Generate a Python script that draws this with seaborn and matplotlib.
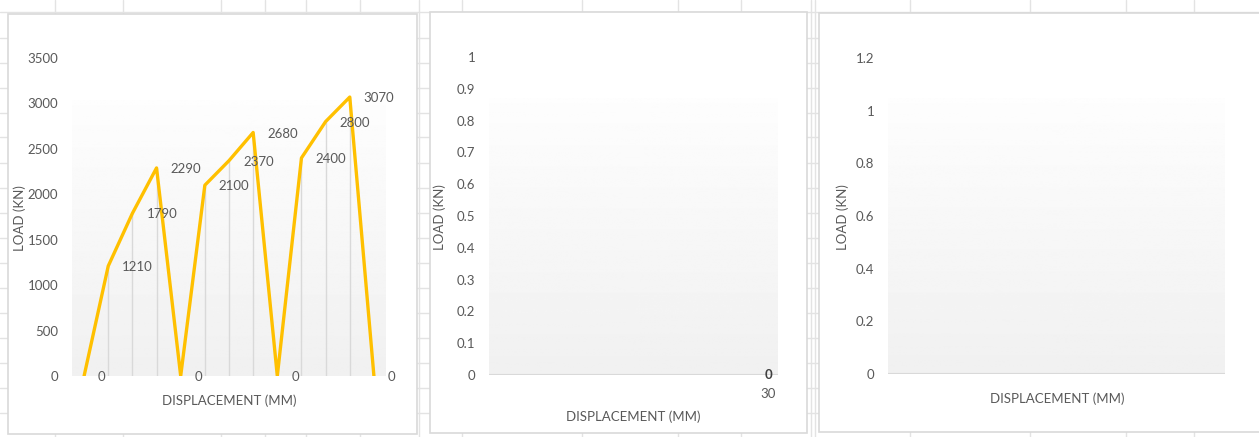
import numpy as np
import matplotlib
matplotlib.use("Agg")
import matplotlib.pyplot as plt
from matplotlib.patches import Rectangle
import seaborn as sns
import pandas as pd

# ---- data -------------------------------------------------------------
load_a = [0, 1210, 1790, 2290, 0, 2100, 2370, 2680, 0, 2400, 2800, 3070, 0]
step_a = list(range(len(load_a)))
yticks_a = [0, 500, 1000, 1500, 2000, 2500, 3000, 3500]

disp_b = [30]
load_b = [0]
yticks_b = [0, 0.1, 0.2, 0.3, 0.4, 0.5, 0.6, 0.7, 0.8, 0.9, 1]

yticks_c = [0, 0.2, 0.4, 0.6, 0.8, 1, 1.2]

x_title = "DISPLACEMENT (MM)"
y_title = "LOAD (KN)"

# ---- style ------------------------------------------------------------
sns.set_theme(style="white")
plt.rcParams["font.family"] = ["Lato", "DejaVu Sans"]
TXT = "#595959"
GRID = "#e3e3e3"
BORDER = "#d9d9d9"
GOLD = "#FFC000"
TICK_FS = 9.5
TITLE_FS = 9.5

W, H = 1259, 437
fig = plt.figure(figsize=(W / 100, H / 100), dpi=100)

# sheet background with cell grid
bg = fig.add_axes([0, 0, 1, 1], zorder=0)
bg.set_xlim(0, W)
bg.set_ylim(H, 0)
bg.axis("off")
cols = [55, 123, 221, 265, 306, 360, 419, 462, 582, 678, 741, 811, 815,
        910, 1030, 1126, 1194]
rows = [12, 38, 63, 88, 113, 137, 163, 188, 213, 238, 263, 288, 313, 338,
        363, 388, 413]
for c in cols:
    bg.plot([c, c], [0, H], color=GRID, lw=1)
for r in rows:
    bg.plot([0, W], [r, r], color=GRID, lw=1)

# chart frames (pixel boxes: left, top, right, bottom)
frames = [(8, 14, 417, 434), (430, 12, 807, 433), (819, 13, 1262, 432)]
for l, t, r, b in frames:
    bg.add_patch(Rectangle((l, t), r - l, b - t, facecolor="white",
                           edgecolor=BORDER, lw=1.2, zorder=3))


def px_axes(l, t, r, b):
    return fig.add_axes([l / W, 1 - b / H, (r - l) / W, (b - t) / H],
                        zorder=2)


grad = np.linspace(0.942, 0.993, 256).reshape(-1, 1)


def style_axes(ax, top_frac):
    ax.set_facecolor("none")
    ax.imshow(grad, cmap="gray", vmin=0, vmax=1, aspect="auto",
              extent=(0, 1, 0, top_frac), transform=ax.transAxes,
              origin="lower", zorder=0)
    for s in ax.spines.values():
        s.set_visible(False)
    ax.tick_params(axis="both", length=0, colors=TXT, labelsize=TICK_FS)
    ax.tick_params(axis="y", pad=10)
    ax.grid(False)


def titles(xx, xy, yx, yy):
    fig.text(xx / W, 1 - xy / H, x_title, ha="center", va="center",
             color=TXT, fontsize=TITLE_FS, zorder=5)
    fig.text(yx / W, 1 - yy / H, y_title, ha="center", va="center",
             rotation=90, color=TXT, fontsize=TITLE_FS, zorder=5)


# ---- chart 1 ----------------------------------------------------------
ax1 = px_axes(72, 58, 386, 376)
style_axes(ax1, (376 - 100) / (376 - 58))
df_a = pd.DataFrame({"step": step_a, "load": load_a})
ax1.vlines(df_a["step"], 0, df_a["load"], color="#d9d9d9", lw=1, zorder=1)
sns.lineplot(data=df_a, x="step", y="load", ax=ax1, color=GOLD, lw=2.4,
             zorder=3)
ax1.set_xlim(-0.5, len(load_a) - 0.5)
ax1.set_ylim(0, 3500)
ax1.set_yticks(yticks_a)
ax1.set_yticklabels([str(v) for v in yticks_a])
ax1.set_xticks([])
for xs, ys in zip(step_a, load_a):
    ax1.annotate(str(ys), (xs, ys), xytext=(14, -1),
                 textcoords="offset pixels", ha="left", va="center",
                 color=TXT, fontsize=TICK_FS, zorder=4,
                 annotation_clip=False)
ax1.set_xlabel("")
ax1.set_ylabel("")
titles(229, 401, 20, 218)

# ---- chart 2 ----------------------------------------------------------
ax2 = px_axes(489, 57, 778, 375)
style_axes(ax2, (375 - 98) / (375 - 57))
df_b = pd.DataFrame({"disp": disp_b, "load": load_b})
sns.lineplot(data=df_b, x="disp", y="load", ax=ax2, color=GOLD, lw=2.4)
ax2.set_xlim(16, 30.5)
ax2.set_ylim(0, 1)
ax2.set_yticks(yticks_b)
ax2.set_yticklabels([f"{v:g}" for v in yticks_b])
ax2.set_xticks(disp_b)
ax2.set_xticklabels([str(v) for v in disp_b])
ax2.tick_params(axis="x", pad=9)
ax2.axhline(0, color=BORDER, lw=1.5, zorder=2)
for xs, ys in zip(disp_b, load_b):
    ax2.annotate(str(ys), (xs, ys), xytext=(0, 0),
                 textcoords="offset pixels", ha="center", va="center",
                 color="#404040", fontsize=TICK_FS, fontweight="bold",
                 zorder=4, annotation_clip=False)
ax2.set_xlabel("")
ax2.set_ylabel("")
titles(633, 417, 440, 217)

# ---- chart 3 ----------------------------------------------------------
ax3 = px_axes(888, 58, 1225, 374)
style_axes(ax3, (374 - 98) / (374 - 58))
ax3.set_xlim(0, 1)
ax3.set_ylim(0, 1.2)
ax3.set_yticks(yticks_c)
ax3.set_yticklabels([f"{v:g}" for v in yticks_c])
ax3.set_xticks([])
ax3.axhline(0, color=BORDER, lw=1.5, zorder=2)
titles(1057, 399, 843, 217)

fig.savefig("out.png", dpi=100)
